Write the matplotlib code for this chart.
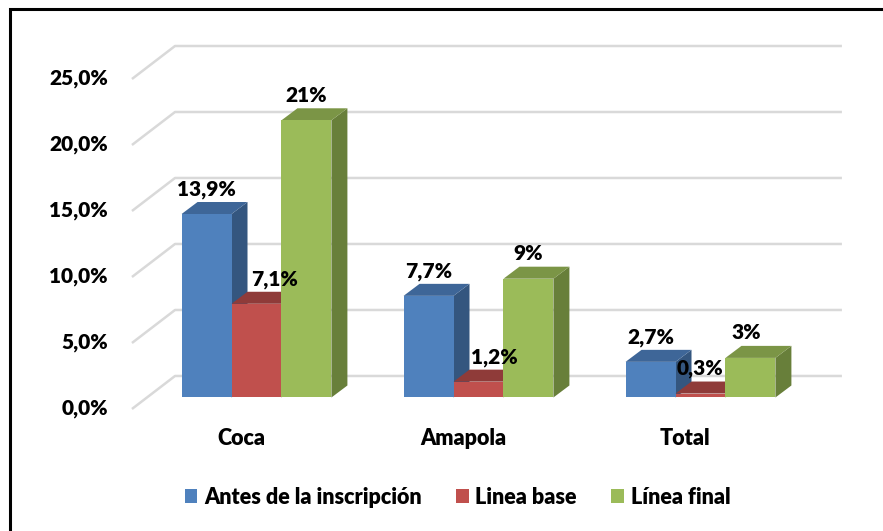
import matplotlib
matplotlib.use("Agg")
import matplotlib.pyplot as plt
from matplotlib.patches import Polygon, Rectangle, Patch

plt.rcParams["font.family"] = ["Lato", "DejaVu Sans"]
plt.rcParams["font.weight"] = "heavy"

# ============================================================
# DATA
# ============================================================
categories = ["Coca", "Amapola", "Total"]
series = ["Antes de la inscripción", "Linea base", "Línea final"]
antes = [13.9, 7.7, 2.7]
linea_base = [7.1, 1.2, 0.3]
linea_final = [21.0, 9.0, 3.0]
labels_antes = ["13,9%", "7,7%", "2,7%"]
labels_base = ["7,1%", "1,2%", "0,3%"]
labels_final = ["21%", "9%", "3%"]
yticks = [0, 5, 10, 15, 20, 25]
ytick_labels = ["0,0%", "5,0%", "10,0%", "15,0%", "20,0%", "25,0%"]

# front / top / side shades per series
COLORS = [
    ("#4F81BD", "#3E6698", "#34567F"),
    ("#C0504D", "#8F3B39", "#8C3836"),
    ("#9BBB59", "#7B9546", "#687F3A"),
]

# ============================================================
# LAYOUT (pseudo 3D, Excel style)
# ============================================================
W = 0.225          # bar width in category units
DX, DY = 0.072, 0.91      # bar depth offset
BACK_DX, BACK_Y = -0.367, 1.63   # back wall: left x, vertical shift
FRONT_X, FRONT_Y = -0.561, -0.87  # front edge of floor
RIGHT_X = 2.637
FS = 15.5

fig = plt.figure(figsize=(8.83, 5.31), dpi=100)
ax = fig.add_axes([0, 0, 1, 1])
ax.set_xlim(-1.1554, 2.8221)
ax.set_ylim(-10.114, 30.114)
ax.axis("off")

# gridlines on the back wall + diagonal on the side
for t, lab in zip(yticks, ytick_labels):
    ax.plot([FRONT_X, BACK_DX, RIGHT_X], [t + FRONT_Y, t + BACK_Y, t + BACK_Y],
            color="#D9D9D9", linewidth=1.8, zorder=1, solid_capstyle="butt")
    ax.text(FRONT_X - 0.108, t + FRONT_Y, lab, ha="right", va="center",
            fontsize=15, fontweight="heavy", color="black")

values = [antes, linea_base, linea_final]
bar_labels = [labels_antes, labels_base, labels_final]
label_shift = [[0, 0, 0], [0.08, 0.07, 0], [0, 0, -0.02]]

z = 2
for i in range(len(categories)):
    for s in range(3):
        v = values[s][i]
        x0 = i + (s - 1.5) * W
        x1 = x0 + W
        front, top, side = COLORS[s]
        ax.add_patch(Polygon([(x1, 0), (x1 + DX, DY), (x1 + DX, v + DY), (x1, v)],
                             closed=True, facecolor=side, edgecolor="none", zorder=z))
        ax.add_patch(Polygon([(x0, v), (x1, v), (x1 + DX, v + DY), (x0 + DX, v + DY)],
                             closed=True, facecolor=top, edgecolor="none", zorder=z + 1))
        ax.bar(x0, v, width=W, align="edge", color=front, zorder=z + 2)
        z += 3
        ax.text(x0 + W / 2 + label_shift[s][i], v + DY + 0.5, bar_labels[s][i],
                ha="center", va="baseline", fontsize=15, fontweight="heavy",
                color="black", zorder=100)

for i, c in enumerate(categories):
    ax.text(i - 0.07, -3.14, c, ha="center", va="center", fontsize=FS,
            fontweight="heavy", color="black")

handles = [Patch(facecolor=COLORS[s][0], edgecolor="none") for s in range(3)]
ax.legend(handles, series, loc="center", bbox_to_anchor=(0.518, 0.064),
          ncol=3, frameon=False, handlelength=0.6, handleheight=0.6,
          handletextpad=0.3, columnspacing=1.6,
          prop={"weight": "heavy", "size": FS})

# outer frame (right and bottom edges fall outside the picture)
fig.patches.append(Rectangle((10 / 883, -0.05), 1.1, 1 - 9 / 531 + 0.05,
                             transform=fig.transFigure, fill=False,
                             edgecolor="black", linewidth=2.2))

plt.savefig("out.png", dpi=100)
